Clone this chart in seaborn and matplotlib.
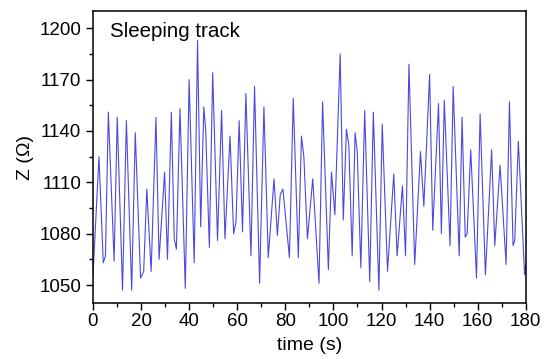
import numpy as np
import pandas as pd
import matplotlib
matplotlib.use("Agg")
import matplotlib.pyplot as plt
import seaborn as sns
from matplotlib.ticker import MultipleLocator

# values (turning points of the trace)
time_s = [0, 2.5, 4.3, 5.2, 6.4, 8.8, 10.1, 12.3, 13.9, 16.1,
          17.6, 19.8, 21.1, 22.4, 24.2, 26.2, 27.5, 29.8, 31.0, 32.6,
          33.8, 34.7, 36.2, 38.4, 40.0, 42.1, 43.5, 44.8, 46.1, 46.9,
          48.4, 49.8, 51.8, 53.5, 54.9, 57.0, 58.5, 59.5, 60.8, 62.2,
          63.6, 65.7, 67.2, 69.3, 71.1, 72.9, 75.3, 76.7, 77.9, 79.0,
          81.7, 83.3, 85.4, 86.7, 87.7, 89.2, 91.4, 94.0, 95.5, 97.9,
          99.2, 100.6, 102.8, 104.1, 105.4, 106.4, 107.8, 109.0, 109.9, 111.4,
          113.0, 115.1, 116.6, 118.9, 120.3, 122.5, 125.1, 126.5, 128.7, 130.0,
          131.4, 133.8, 136.2, 137.6, 140.0, 141.3, 143.7, 144.9, 146.1, 148.5,
          149.8, 152.3, 153.5, 154.8, 155.6, 157.1, 159.5, 161.0, 163.2, 165.8,
          167.1, 169.3, 171.8, 173.2, 174.7, 175.4, 176.9, 179.5, 180.0]
impedance = [1055, 1125, 1063, 1067, 1151, 1064, 1148, 1047, 1146, 1047,
             1139, 1054, 1058, 1106, 1058, 1148, 1065, 1116, 1065, 1151,
             1077, 1071, 1153, 1048, 1170, 1063, 1193, 1084, 1154, 1140,
             1072, 1174, 1076, 1152, 1077, 1137, 1080, 1087, 1146, 1081,
             1162, 1067, 1166, 1051, 1154, 1066, 1112, 1079, 1103, 1106,
             1066, 1159, 1066, 1137, 1125, 1077, 1112, 1051, 1157, 1059,
             1116, 1091, 1185, 1088, 1141, 1132, 1067, 1139, 1128, 1060,
             1152, 1052, 1151, 1047, 1144, 1058, 1115, 1067, 1108, 1067,
             1179, 1062, 1128, 1096, 1173, 1082, 1156, 1080, 1158, 1073,
             1166, 1067, 1148, 1078, 1080, 1129, 1054, 1150, 1056, 1129,
             1073, 1120, 1062, 1157, 1073, 1076, 1134, 1056, 1062]

df = pd.DataFrame({"time": time_s, "Z": impedance})

sns.set_style("ticks")
plt.rcParams["font.family"] = ["Liberation Sans", "DejaVu Sans"]
plt.rcParams["text.color"] = "black"
plt.rcParams["axes.labelcolor"] = "black"

fig = plt.figure(figsize=(5.5, 3.59), dpi=100)
ax = fig.add_axes([0.169, 0.156, 0.787, 0.813])

sns.lineplot(data=df, x="time", y="Z", color="#4a4ade", linewidth=0.8, ax=ax)

ax.set_xlim(0, 180)
ax.set_ylim(1039.5, 1210)
ax.xaxis.set_major_locator(MultipleLocator(20))
ax.xaxis.set_minor_locator(MultipleLocator(10))
ax.yaxis.set_major_locator(MultipleLocator(30))
ax.yaxis.set_minor_locator(MultipleLocator(15))
ax.tick_params(which="major", direction="out", length=5, width=1, labelsize=13.5, colors="black")
ax.tick_params(which="minor", direction="out", length=3, width=1, colors="black")
ax.tick_params(axis="x", pad=2)
for sp in ax.spines.values():
    sp.set_visible(True)
    sp.set_color("black")
    sp.set_linewidth(1.1)

ax.set_xlabel("time (s)", fontsize=14, labelpad=5)
ax.set_ylabel("Z (Ω)", fontsize=14, labelpad=4)
ax.text(0.039, 0.962, "Sleeping track", transform=ax.transAxes, fontsize=14.8, va="top", ha="left")

fig.savefig("out.png", dpi=100)
